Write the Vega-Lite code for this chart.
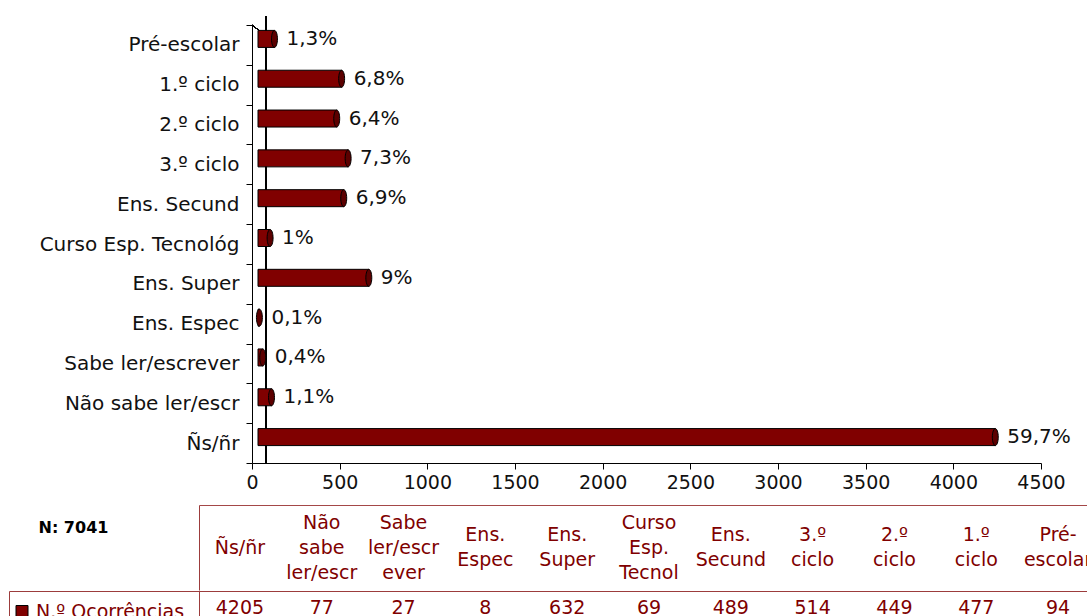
{
  "$schema": "https://vega.github.io/schema/vega-lite/v6.json",
  "padding": {"left": 8, "top": 15, "right": 0, "bottom": 0},
  "background": "white",
  "config": {"view": {"stroke": null}, "font": "DejaVu Sans"},
  "datasets": {
    "escolaridade": [
      {"nivel": "Pré-escolar", "tabela": "Pré-|escolar", "n": 94, "pct": "1,3%"},
      {"nivel": "1.º ciclo", "tabela": "1.º|ciclo", "n": 477, "pct": "6,8%"},
      {"nivel": "2.º ciclo", "tabela": "2.º|ciclo", "n": 449, "pct": "6,4%"},
      {"nivel": "3.º ciclo", "tabela": "3.º|ciclo", "n": 514, "pct": "7,3%"},
      {"nivel": "Ens. Secund", "tabela": "Ens.|Secund", "n": 489, "pct": "6,9%"},
      {"nivel": "Curso Esp. Tecnológ", "tabela": "Curso|Esp.|Tecnol", "n": 69, "pct": "1%"},
      {"nivel": "Ens. Super", "tabela": "Ens.|Super", "n": 632, "pct": "9%"},
      {"nivel": "Ens. Espec", "tabela": "Ens.|Espec", "n": 8, "pct": "0,1%"},
      {"nivel": "Sabe ler/escrever", "tabela": "Sabe|ler/escr|ever", "n": 27, "pct": "0,4%"},
      {"nivel": "Não sabe ler/escr", "tabela": "Não|sabe|ler/escr", "n": 77, "pct": "1,1%"},
      {"nivel": "Ñs/ñr", "tabela": "Ñs/ñr", "n": 4205, "pct": "59,7%"}
    ]
  },
  "spacing": 0,
  "resolve": {"scale": {"x": "independent", "y": "independent", "color": "independent"}},
  "vconcat": [
    {
      "width": 1079,
      "height": 438,
      "data": {"name": "escolaridade"},
      "layer": [
        {
          "mark": {"type": "rule", "xOffset": 14, "yOffset": -9, "color": "#000", "strokeWidth": 1},
          "encoding": {"x": {"datum": 0, "type": "quantitative"}}
        },
        {
          "mark": {"type": "rule", "x2Offset": 14, "y2Offset": -9, "color": "#000", "strokeWidth": 1},
          "encoding": {
            "x": {"datum": 0, "type": "quantitative"},
            "x2": {"datum": 0},
            "y": {"datum": "Pré-escolar", "type": "nominal", "bandPosition": 0},
            "y2": {"datum": "Pré-escolar"}
          }
        },
        {
          "mark": {"type": "bar", "size": 17, "xOffset": 6, "yOffset": -6, "fill": "#800000", "stroke": "#000", "strokeWidth": 1},
          "encoding": {
            "x": {
              "field": "n", "type": "quantitative",
              "scale": {"domain": [0, 4500], "nice": false, "range": [243, 1032]},
              "axis": {"title": null, "grid": false, "tickCount": 9, "format": "d", "tickSize": 6, "labelPadding": 4, "labelFontSize": 19, "labelColor": "#111", "labelFlush": false, "domainColor": "#000", "tickColor": "#000", "minExtent": 42, "maxExtent": 42}
            },
            "y": {
              "field": "nivel", "type": "nominal", "sort": null,
              "scale": {"paddingInner": 0, "paddingOuter": 0},
              "axis": {"title": null, "offset": -243, "tickBand": "extent", "tickSize": 6, "labelPadding": 7, "labelFontSize": 20, "labelColor": "#111", "labelLimit": 400, "domainColor": "#000", "tickColor": "#000"}
            }
          }
        },
        {
          "mark": {"type": "point", "shape": "M0,-1A0.35,1,0,1,1,0,1A0.35,1,0,1,1,0,-1Z", "size": 289, "filled": true, "fill": "#5c0000", "stroke": "#000", "strokeWidth": 1, "opacity": 1, "xOffset": 6, "yOffset": -6},
          "encoding": {
            "x": {"field": "n", "type": "quantitative"},
            "y": {"field": "nivel", "type": "nominal", "sort": null}
          }
        },
        {
          "mark": {"type": "text", "align": "left", "baseline": "middle", "dx": 18, "dy": -6, "fontSize": 20, "fill": "#111"},
          "encoding": {
            "x": {"field": "n", "type": "quantitative"},
            "y": {"field": "nivel", "type": "nominal", "sort": null},
            "text": {"field": "pct"}
          }
        }
      ]
    },
    {
      "width": 1090,
      "height": 85,
      "data": {"name": "escolaridade"},
      "encoding": {
        "x": {
          "field": "nivel", "type": "nominal",
          "sort": ["Ñs/ñr", "Não sabe ler/escr", "Sabe ler/escrever", "Ens. Espec", "Ens. Super", "Curso Esp. Tecnológ", "Ens. Secund", "3.º ciclo", "2.º ciclo", "1.º ciclo", "Pré-escolar"],
          "scale": {"paddingInner": 0, "paddingOuter": 0, "range": [190, 1090]},
          "axis": {"orient": "top", "title": null, "labels": false, "ticks": false, "grid": false, "domainColor": "#a44848", "minExtent": 0, "maxExtent": 0}
        },
        "y": {
          "datum": "N: 7041", "type": "nominal",
          "axis": {"title": null, "offset": -190, "domainColor": "#9c3c3c", "ticks": false, "tickSize": 0, "labelFontWeight": "bold", "labelFontSize": 16, "labelColor": "#000", "labelAlign": "left", "labelPadding": 161, "labelOffset": -20}
        },
        "text": {"field": "tabela"}
      },
      "layer": [
        {
          "transform": [{"filter": "length(split(datum.tabela, '|')) == 1"}],
          "mark": {"type": "text", "lineBreak": "|", "lineHeight": 25, "fontSize": 19, "fill": "#800000", "baseline": "middle"}
        },
        {
          "transform": [{"filter": "length(split(datum.tabela, '|')) == 2"}],
          "mark": {"type": "text", "lineBreak": "|", "lineHeight": 25, "fontSize": 19, "fill": "#800000", "baseline": "middle", "dy": -12.5}
        },
        {
          "transform": [{"filter": "length(split(datum.tabela, '|')) == 3"}],
          "mark": {"type": "text", "lineBreak": "|", "lineHeight": 25, "fontSize": 19, "fill": "#800000", "baseline": "middle", "dy": -25}
        }
      ]
    },
    {
      "width": 1090,
      "height": 33,
      "view": {"stroke": "#9c3c3c", "strokeWidth": 1},
      "data": {"name": "escolaridade"},
      "mark": {"type": "text", "fontSize": 19, "baseline": "middle"},
      "encoding": {
        "x": {
          "field": "nivel", "type": "nominal",
          "sort": ["Ñs/ñr", "Não sabe ler/escr", "Sabe ler/escrever", "Ens. Espec", "Ens. Super", "Curso Esp. Tecnológ", "Ens. Secund", "3.º ciclo", "2.º ciclo", "1.º ciclo", "Pré-escolar"],
          "scale": {"paddingInner": 0, "paddingOuter": 0, "range": [190, 1090]},
          "axis": null
        },
        "y": {
          "datum": "N.º Ocorrências", "type": "nominal",
          "axis": {"title": null, "offset": -190, "labels": false, "ticks": false, "domainColor": "#9c3c3c"}
        },
        "color": {
          "datum": "N.º Ocorrências", "type": "nominal",
          "scale": {"range": ["#800000"]},
          "legend": {"orient": "none", "legendX": 3.5, "legendY": 11, "title": null, "padding": 0, "symbolType": "square", "symbolSize": 144, "symbolStrokeColor": "#000", "symbolStrokeWidth": 1, "symbolFillColor": "#800000", "symbolOpacity": 1, "labelFontSize": 19, "labelColor": "#800000", "labelFont": "DejaVu Sans", "labelOffset": 4.5, "labelLimit": 300}
        },
        "text": {"field": "n"}
      }
    }
  ]
}
